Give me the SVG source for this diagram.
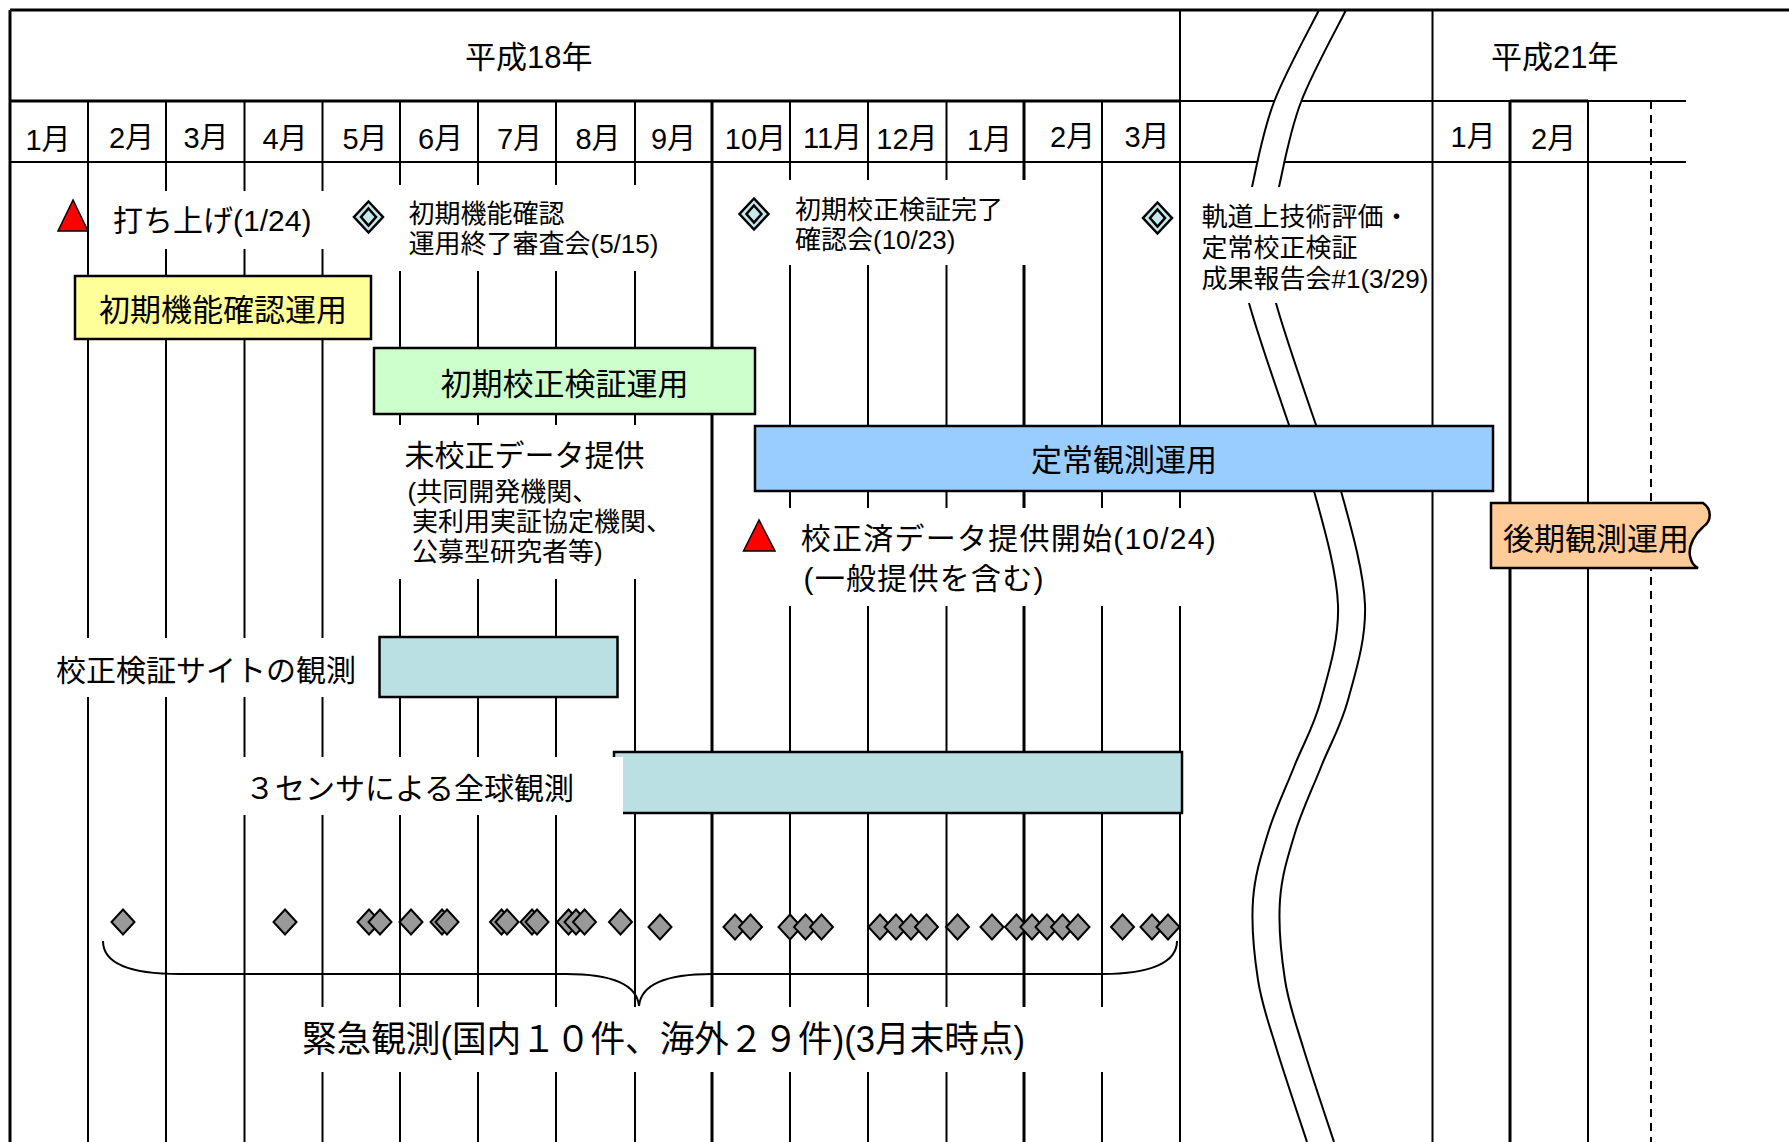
<svg xmlns="http://www.w3.org/2000/svg" width="1789" height="1142" viewBox="0 0 1789 1142">
<defs>
<style>
.ln{stroke:#000;stroke-width:2;fill:none}
.lt{stroke:#000;stroke-width:3;fill:none}
.t{font-family:"Liberation Sans","Noto Sans CJK JP",sans-serif;fill:#000}
.mo{font-size:29px;text-anchor:middle}
.bg{fill:#fff}
.box{stroke:#000;stroke-width:2.5}
.ms{font-size:26px}
.ed{fill:#999;stroke:#000;stroke-width:2}
.tri{fill:#f00;stroke:#000;stroke-width:1.5}
</style>
<path id="brk" d="M1319,10 C1311.5,25.3 1285.2,72.5 1274,102 C1262.8,131.5 1257.5,162.3 1252,187 C1246.5,211.7 1241.5,230.7 1241,250 C1240.5,269.3 1241,273.8 1249,303 C1257,332.2 1278.2,393.7 1289,425 C1299.8,456.3 1305.8,461 1314,491 C1322.2,521 1336.8,570.2 1338,605 C1339.2,639.8 1328.3,673 1321,700 C1313.7,727 1302.8,744.8 1294,767 C1285.2,789.2 1274.8,810.8 1268,833 C1261.2,855.2 1254.7,875.5 1253,900 C1251.3,924.5 1254.2,955.5 1258,980 C1261.8,1004.5 1267.8,1020 1276,1047 C1284.2,1074 1301.8,1126.2 1307,1142"/>
<g id="mk">
<path d="M0,-15.5 L14.5,0 L0,15.5 L-14.5,0Z" fill="#C6E7EA" stroke="#000" stroke-width="2.5"/>
<path d="M0,-8.5 L7.5,0 L0,8.5 L-7.5,0Z" fill="#C6E7EA" stroke="#000" stroke-width="2.5"/>
</g>
<path id="ed" d="M0,-12.5 L11.5,0 L0,12.5 L-11.5,0Z"/>
</defs>
<rect width="1789" height="1142" fill="#fff"/>

<g id="grid">
<line class="lt" x1="10" y1="10" x2="10" y2="1142"/>
<line class="ln" x1="88" y1="101" x2="88" y2="1142"/>
<line class="ln" x1="166" y1="101" x2="166" y2="1142"/>
<line class="ln" x1="244.5" y1="101" x2="244.5" y2="1142"/>
<line class="ln" x1="322.5" y1="101" x2="322.5" y2="1142"/>
<line class="ln" x1="400" y1="101" x2="400" y2="1142"/>
<line class="ln" x1="478" y1="101" x2="478" y2="1142"/>
<line class="ln" x1="556" y1="101" x2="556" y2="1142"/>
<line class="ln" x1="635" y1="101" x2="635" y2="1142"/>
<line class="lt" x1="712" y1="101" x2="712" y2="1142"/>
<line class="ln" x1="790" y1="101" x2="790" y2="1142"/>
<line class="ln" x1="868" y1="101" x2="868" y2="1142"/>
<line class="ln" x1="946.5" y1="101" x2="946.5" y2="1142"/>
<line class="lt" x1="1024" y1="101" x2="1024" y2="1142"/>
<line class="ln" x1="1102" y1="101" x2="1102" y2="1142"/>
<line class="ln" x1="1180" y1="10" x2="1180" y2="1142"/>
<line class="ln" x1="1432.5" y1="10" x2="1432.5" y2="1142"/>
<line class="lt" x1="1510" y1="101" x2="1510" y2="1142"/>
<line class="ln" x1="1588" y1="101" x2="1588" y2="1142"/>
<line class="ln" x1="1651" y1="101" x2="1651" y2="1142" stroke-dasharray="8 6"/>
<line class="lt" x1="10" y1="101" x2="1180" y2="101"/>
<line class="ln" x1="1180" y1="101" x2="1686" y2="101"/>
<line class="lt" x1="1510" y1="101" x2="1588" y2="101"/>
<line class="ln" x1="10" y1="162" x2="1686" y2="162"/>
</g>

<g id="break">
<use href="#brk" transform="translate(13.5,0)" fill="none" stroke="#fff" stroke-width="25"/>
<use href="#brk" class="ln"/>
<use href="#brk" class="ln" transform="translate(27,0)"/>
</g>
<line class="lt" x1="10" y1="10" x2="1789" y2="10"/>

<g id="header" class="t">
<text x="465" y="68" font-size="31">平成18年</text>
<text x="1491" y="68" font-size="31">平成21年</text>
<text class="t mo" x="48" y="150">1月</text>
<text class="t mo" x="131.5" y="148">2月</text>
<text class="t mo" x="206" y="148">3月</text>
<text class="t mo" x="285" y="149">4月</text>
<text class="t mo" x="365" y="149">5月</text>
<text class="t mo" x="440.5" y="149">6月</text>
<text class="t mo" x="519.5" y="149">7月</text>
<text class="t mo" x="598" y="149">8月</text>
<text class="t mo" x="673.5" y="149">9月</text>
<text class="t mo" x="755.5" y="149">10月</text>
<text class="t mo" x="832.5" y="148">11月</text>
<text class="t mo" x="907" y="149">12月</text>
<text class="t mo" x="989.5" y="150">1月</text>
<text class="t mo" x="1072.5" y="147">2月</text>
<text class="t mo" x="1147" y="147">3月</text>
<text class="t mo" x="1473" y="147">1月</text>
<text class="t mo" x="1553.5" y="149">2月</text>
</g>

<g id="bar-initial-function">
<rect class="box" x="75" y="276" width="296" height="63" fill="#FFFF99"/>
<text class="t" x="223" y="321" font-size="31" text-anchor="middle">初期機能確認運用</text>
</g>
<g id="bar-initial-calval">
<rect class="box" x="374" y="348" width="381" height="66" fill="#CCFFCC"/>
<text class="t" x="564.5" y="395" font-size="31" text-anchor="middle">初期校正検証運用</text>
</g>
<g id="bar-routine">
<rect class="box" x="755" y="426" width="738" height="65" fill="#99CCFF"/>
<text class="t" x="1124" y="471" font-size="31" text-anchor="middle">定常観測運用</text>
</g>
<g id="bar-later">
<path class="box" d="M1491,503 L1703,503 C1712,509 1712,521 1703,527 C1696,533 1688,545 1690,556 C1691,562 1694,566 1698,568 L1491,568 Z" fill="#FFCC99"/>
<text class="t" x="1596" y="550" font-size="31" text-anchor="middle">後期観測運用</text>
</g>

<g id="launch">
<rect class="bg" x="98" y="191" width="237" height="58"/>
<polygon class="tri" points="73,200 58,231 88,231"/>
<text class="t" x="113" y="231" font-size="30">打ち上げ(1/24)</text>
</g>
<g id="review-initial-function">
<rect class="bg" x="395" y="185" width="272" height="86"/>
<use href="#mk" x="368.5" y="217"/>
<text class="t ms" x="408.5" y="222.5">初期機能確認</text>
<text class="t ms" x="408.5" y="253">運用終了審査会(5/15)</text>
</g>
<g id="review-initial-calval">
<rect class="bg" x="785" y="180" width="250" height="85"/>
<use href="#mk" x="754" y="214"/>
<text class="t ms" x="795" y="219">初期校正検証完了</text>
<text class="t ms" x="795" y="249">確認会(10/23)</text>
</g>
<g id="report-meeting">
<rect class="bg" x="1195" y="187" width="234" height="116"/>
<use href="#mk" x="1157.5" y="218"/>
<text class="t ms" x="1201.5" y="226">軌道上技術評価・</text>
<text class="t ms" x="1201.5" y="257">定常校正検証</text>
<text class="t ms" x="1201.5" y="288">成果報告会#1(3/29)</text>
</g>
<g id="uncalibrated-data">
<rect class="bg" x="395" y="425" width="272" height="154"/>
<text class="t" x="404.5" y="466" font-size="30">未校正データ提供</text>
<text class="t" x="407.5" y="501" font-size="26">(共同開発機関、</text>
<text class="t" x="412" y="531" font-size="26">実利用実証協定機関、</text>
<text class="t" x="412" y="561" font-size="26">公募型研究者等)</text>
</g>
<g id="calibrated-data">
<rect class="bg" x="735" y="508" width="455" height="98"/>
<polygon class="tri" points="759,520 743.5,551 775,551"/>
<text class="t" x="800.7" y="549" font-size="30" textLength="415">校正済データ提供開始(10/24)</text>
<text class="t" x="803.6" y="589" font-size="30" textLength="240">(一般提供を含む)</text>
</g>
<g id="site-observation">
<rect class="bg" x="45" y="638" width="325" height="59"/>
<text class="t" x="56" y="681" font-size="30">校正検証サイトの観測</text>
<rect class="box" x="379.5" y="637" width="238" height="60" fill="#BBE0E3" stroke-width="2"/>
</g>
<g id="global-observation">
<rect class="box" x="614" y="752" width="568" height="61" fill="#BBE0E3" stroke-width="2"/>
<rect class="bg" x="235" y="757" width="388" height="58"/>
<text class="t" x="245" y="799" font-size="30">３センサによる全球観測</text>
</g>

<g id="emergency-observations">
<use href="#ed" class="ed" x="123" y="922"/>
<use href="#ed" class="ed" x="285" y="922"/>
<use href="#ed" class="ed" x="369" y="922"/>
<use href="#ed" class="ed" x="380" y="922"/>
<use href="#ed" class="ed" x="411" y="922"/>
<use href="#ed" class="ed" x="442" y="922"/>
<use href="#ed" class="ed" x="447" y="922"/>
<use href="#ed" class="ed" x="501.5" y="922"/>
<use href="#ed" class="ed" x="507" y="922"/>
<use href="#ed" class="ed" x="532" y="922"/>
<use href="#ed" class="ed" x="537" y="922"/>
<use href="#ed" class="ed" x="568.5" y="922"/>
<use href="#ed" class="ed" x="576" y="922"/>
<use href="#ed" class="ed" x="584.5" y="922"/>
<use href="#ed" class="ed" x="620.5" y="922"/>
<use href="#ed" class="ed" x="660" y="927"/>
<use href="#ed" class="ed" x="735" y="927"/>
<use href="#ed" class="ed" x="750.5" y="927"/>
<use href="#ed" class="ed" x="790" y="927"/>
<use href="#ed" class="ed" x="805.5" y="927"/>
<use href="#ed" class="ed" x="821.5" y="927"/>
<use href="#ed" class="ed" x="880" y="927"/>
<use href="#ed" class="ed" x="896" y="927"/>
<use href="#ed" class="ed" x="911" y="927"/>
<use href="#ed" class="ed" x="926.5" y="927"/>
<use href="#ed" class="ed" x="957.5" y="927"/>
<use href="#ed" class="ed" x="992" y="927"/>
<use href="#ed" class="ed" x="1016.5" y="927"/>
<use href="#ed" class="ed" x="1032" y="927"/>
<use href="#ed" class="ed" x="1047" y="927"/>
<use href="#ed" class="ed" x="1062.5" y="927"/>
<use href="#ed" class="ed" x="1078" y="927"/>
<use href="#ed" class="ed" x="1122.5" y="927"/>
<use href="#ed" class="ed" x="1152" y="927"/>
<use href="#ed" class="ed" x="1168" y="927"/>
</g>
<g id="connectors">
<path class="ln" d="M103,941 C103,962 125,974 180,974 L566,974 C612,974 637,985 639,1006 C641,985 666,974 712,974 L1102,974 C1152,974 1177,962 1177,941"/>
</g>
<g id="emergency-label">
<rect class="bg" x="298" y="1007" width="814" height="65"/>
<text class="t" x="302" y="1052" font-size="36" textLength="723" lengthAdjust="spacingAndGlyphs">緊急観測(国内１０件、海外２９件)(3月末時点)</text>
</g>
</svg>
